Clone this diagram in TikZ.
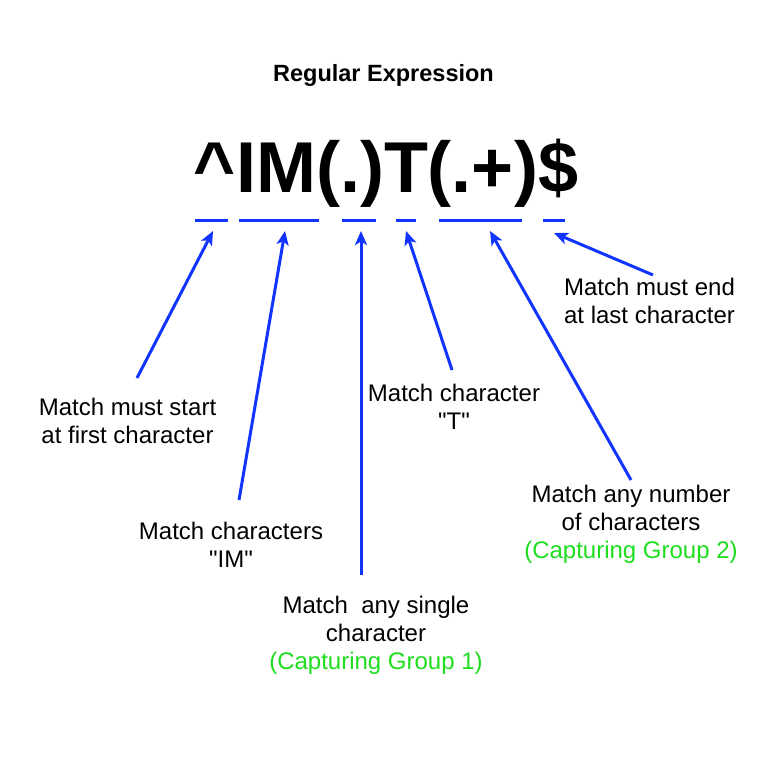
\documentclass[tikz,border=0pt]{standalone}
\usepackage{fontspec}
\setmainfont{Liberation Sans}[Ligatures=TeXOff]
\usetikzlibrary{arrows.meta}
\definecolor{lineblue}{RGB}{18,52,255}
\definecolor{groupgreen}{RGB}{30,222,30}
\tikzset{
  note/.style={align=center, inner sep=0pt, font=\fontsize{24}{27.8}\selectfont},
  pointer/.style={draw=lineblue, line width=3pt,
    -{Stealth[length=14pt, width=12pt, inset=3.5pt]}},
  span/.style={draw=lineblue, line width=3pt},
  grp/.style={text=groupgreen}
}
\begin{document}
\begin{tikzpicture}[x=1pt, y=-1pt]
  \useasboundingbox[fill=white] (0,0) rectangle (768,768);

  % title and the expression itself
  \node[inner sep=0pt, font=\fontsize{23.5}{28}\selectfont\bfseries] (title) at (383.5,75) {Regular Expression};
  \node[inner sep=0pt, anchor=base, font=\fontsize{72}{80}\selectfont\bfseries] (regex) at (386,192.5) {\^{}IM(.)T(.+)\$};

  % spans under each part of the expression
  \draw[span] (195,220) coordinate (s1a) -- (228,220) coordinate (s1b);
  \draw[span] (239,220) coordinate (s2a) -- (319,220) coordinate (s2b);
  \draw[span] (342,220) coordinate (s3a) -- (376,220) coordinate (s3b);
  \draw[span] (396,220) coordinate (s4a) -- (416,220) coordinate (s4b);
  \draw[span] (439,220) coordinate (s5a) -- (522,220) coordinate (s5b);
  \draw[span] (543,220) coordinate (s6a) -- (565,220) coordinate (s6b);

  % explanations
  \node[note] (start) at (127.5,421) {Match must start\\at first character};
  \node[note] (im) at (231,544.5) {Match characters\\"IM"};
  \node[note] (any) at (376,635) {Match\ \ any single\\character\\{\color{groupgreen}(Capturing Group 1)}};
  \node[note] (tchar) at (454,407) {Match character\\"T"};
  \node[note] (many) at (631,524) {Match any number\\of characters\\{\color{groupgreen}(Capturing Group 2)}};
  \node[note] (end) at (649.5,301) {Match must end\\at last character};

  % arrow ends
  \coordinate (t1) at (137,378);  \coordinate (h1) at (213,231);
  \coordinate (t2) at (239,500);  \coordinate (h2) at (285,231);
  \coordinate (t3) at (361,575);  \coordinate (h3) at (361,231);
  \coordinate (t4) at (452,370);  \coordinate (h4) at (406,231);
  \coordinate (t5) at (631,480);  \coordinate (h5) at (490,231);
  \coordinate (t6) at (653,275);  \coordinate (h6) at (554,233);

  \draw[pointer] (t1) -- (h1);
  \draw[pointer] (t2) -- (h2);
  \draw[pointer] (t3) -- (h3);
  \draw[pointer] (t4) -- (h4);
  \draw[pointer] (t5) -- (h5);
  \draw[pointer] (t6) -- (h6);
\end{tikzpicture}
\end{document}
